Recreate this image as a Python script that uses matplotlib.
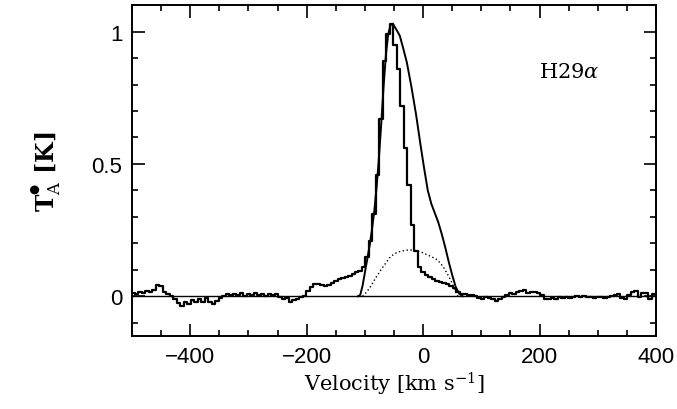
import numpy as np
import matplotlib
matplotlib.use('Agg')
import matplotlib.pyplot as plt
from matplotlib.ticker import MultipleLocator

plt.rcParams['mathtext.fontset'] = 'dejavuserif'

# observed spectrum, 6 km/s channels from -498 to 396
vel = np.arange(-498, 400, 6)
temp = [0.012, 0.010, 0.015, 0.012, 0.020, 0.018, 0.025, 0.042, 0.038, 0.015,
        0.008, 0.000, -0.012, -0.025, -0.038, -0.020, -0.028, -0.015, -0.022, -0.012,
        -0.020, -0.008, -0.022, -0.028, -0.018, -0.008, 0.002, 0.008, 0.004, 0.010,
        0.006, 0.012, 0.002, 0.010, 0.004, 0.012, 0.006, 0.008, 0.002, 0.010,
        0.004, 0.008, -0.004, -0.012, -0.008, -0.020, -0.015, -0.010, -0.004, 0.002,
        0.020, 0.036, 0.045, 0.046, 0.042, 0.038, 0.044, 0.052, 0.058, 0.064,
        0.070, 0.072, 0.078, 0.084, 0.090, 0.097, 0.112,
        0.150, 0.21, 0.31, 0.46, 0.67, 0.89, 0.99, 1.03, 0.95, 0.86,
        0.72, 0.56, 0.42, 0.27, 0.17, 0.11, 0.09, 0.080, 0.072, 0.064,
        0.058, 0.054, 0.050, 0.045, 0.040, 0.030, 0.016, 0.010, 0.008, 0.005,
        0.004, 0.000, -0.008, -0.010, -0.004, -0.008, -0.012, -0.017, -0.010, -0.004,
        0.006, 0.012, 0.008, 0.016, 0.020, 0.022, 0.014, 0.018, 0.016, 0.012,
        0.004, -0.010, -0.012, -0.006, -0.010, -0.004, -0.008, -0.002, -0.006, -0.003,
        0.002, -0.002, 0.000, -0.004, -0.002, -0.006, -0.003, -0.002, -0.006, -0.004,
        0.002, 0.006, 0.008, -0.008, -0.010, 0.004, 0.016, 0.020, -0.004, 0.012,
        0.014, -0.010, 0.008]

# total fit (smooth solid)
fit_v = [-112, -108, -104, -100, -96, -92, -88, -84, -80, -76, -72, -68, -64, -60, -56,
         -52, -48, -44, -40, -34, -28, -20, -12, -4, 2, 8, 14, 20, 26, 32, 38, 44, 50,
         56, 62, 68]
fit_t = [0.0, 0.005, 0.04, 0.09, 0.14, 0.19, 0.25, 0.32, 0.41, 0.52, 0.65, 0.79, 0.91,
         0.99, 1.025, 1.03, 1.015, 1.0, 0.984, 0.935, 0.884, 0.79, 0.685, 0.565, 0.48,
         0.40, 0.35, 0.315, 0.28, 0.235, 0.185, 0.13, 0.08, 0.035, 0.01, 0.0]

# broad component (dotted)
broad_v = [-104, -100, -94, -88, -80, -74, -66, -58, -50, -42, -34, -26, -18, -10, -2,
           6, 14, 22, 30, 37, 44, 49, 54, 58, 60]
broad_t = [0.0, 0.009, 0.025, 0.045, 0.075, 0.095, 0.12, 0.145, 0.16, 0.168, 0.172,
           0.175, 0.175, 0.172, 0.166, 0.158, 0.15, 0.141, 0.125, 0.103, 0.075, 0.053,
           0.025, 0.005, 0.0]

fig = plt.figure(figsize=(6.77, 4.10), dpi=100)
ax = fig.add_axes([0.195, 0.178, 0.774, 0.807])

ax.axhline(0, color='black', lw=1.0)
ax.step(vel, temp, where='mid', color='black', lw=1.6)
ax.plot(fit_v, fit_t, color='black', lw=1.4)
ax.plot(broad_v, broad_t, color='black', lw=1.0, linestyle=(0, (1, 1.8)))

ax.set_xlim(-500, 400)
ax.set_ylim(-0.15, 1.1)
ax.xaxis.set_major_locator(MultipleLocator(200))
ax.xaxis.set_minor_locator(MultipleLocator(50))
ax.yaxis.set_major_locator(MultipleLocator(0.5))
ax.yaxis.set_minor_locator(MultipleLocator(0.1))
ax.set_xticks([-400, -200, 0, 200, 400])
ax.set_xticklabels(['\u2212400', '\u2212200', '0', '200', '400'])
ax.set_yticks([0, 0.5, 1])
ax.set_yticklabels(['0', '0.5', '1'])
ax.tick_params(which='both', direction='in', top=True, right=True, width=1.2)
ax.tick_params(which='major', length=9, pad=7, labelsize=16)
ax.tick_params(which='minor', length=4.5)
for lab in ax.get_xticklabels() + ax.get_yticklabels():
    lab.set_family('Liberation Sans')
for s in ax.spines.values():
    s.set_linewidth(1.4)

ax.set_xlabel(r'Velocity [km s$^{-1}$]', fontsize=15, family='DejaVu Serif', labelpad=2)
ax.set_ylabel('T$_{\\rm A}^{^{\u25cf}}$ [K]', fontsize=17, family='DejaVu Serif',
              fontweight='bold', labelpad=20)
ax.text(250, 0.85, r'H29$\alpha$', fontsize=15, family='DejaVu Serif',
        ha='center', va='center')

fig.savefig('out.png', dpi=100)
